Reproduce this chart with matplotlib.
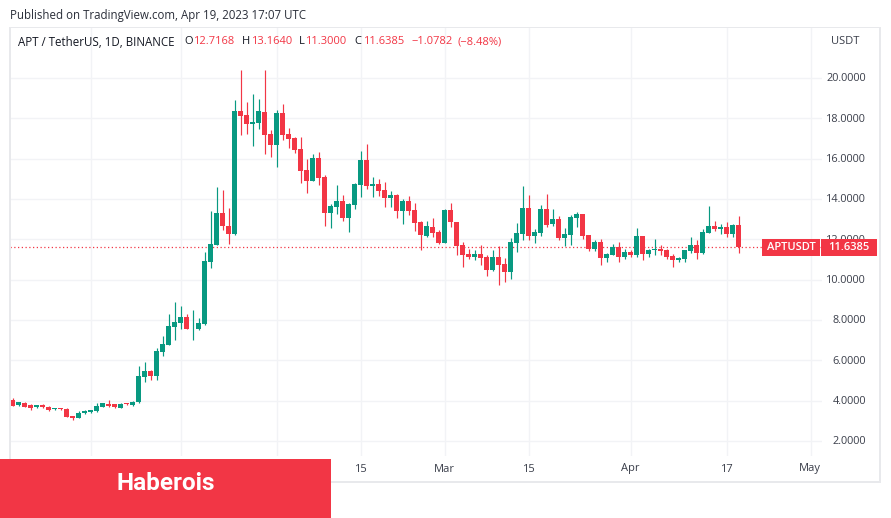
import numpy as np
import matplotlib
matplotlib.use("Agg")
import matplotlib.pyplot as plt
from matplotlib.patches import Rectangle
from matplotlib.transforms import Affine2D

W, H = 891, 518
FONT = "Open Sans"
RED = "#F23645"
GREEN = "#089981"
GRID = "#F2F3F6"
FRAME = "#E8E9EC"
TEXT = "#131722"
AXTXT = "#3A3E4A"

start_date = "2022-12-19"
# candle colour comes from close vs open
opens = [4.05,3.77,3.90,3.77,3.67,3.77,3.70,3.57,3.65,3.60,3.26,3.16,3.37,3.42,3.47,3.70,3.82,3.82,3.65,3.87,3.80,
 3.92,5.19,5.49,5.24,6.43,6.77,7.66,7.86,8.16,7.58,7.56,7.81,10.89,11.73,13.32,12.67,12.28,18.37,18.17,17.74,17.77,
 18.32,17.23,16.68,18.27,17.23,17.03,16.49,15.45,14.90,16.04,15.10,13.32,13.61,13.91,13.07,13.71,14.70,15.94,14.65,
 14.75,14.46,14.06,14.21,13.42,13.91,13.47,12.87,12.18,12.62,12.38,11.83,13.47,12.87,11.74,11.29,11.14,11.29,11.14,
 10.50,11.14,10.80,10.40,11.83,12.28,13.57,12.18,12.33,13.52,12.78,13.02,12.08,12.23,13.07,13.27,12.23,11.54,11.88,
 11.09,11.24,11.62,11.14,11.39,11.24,12.18,11.29,11.47,11.54,11.49,11.19,10.99,11.04,11.44,11.74,11.34,12.33,12.68,
 12.53,12.63,12.28,12.7168]
closes = [3.75,3.92,3.70,3.65,3.77,3.67,3.55,3.65,3.57,3.21,3.16,3.41,3.49,3.52,3.75,3.87,3.75,3.67,3.85,3.82,3.95,
 5.24,5.49,5.24,6.48,6.82,7.71,7.91,8.16,7.56,7.61,7.86,10.93,11.78,13.32,12.64,12.28,18.37,18.12,17.72,17.82,18.37,
 17.18,16.68,18.27,17.18,16.98,16.44,15.40,14.90,16.04,15.05,13.32,13.66,13.91,13.07,13.76,14.75,15.94,14.65,14.75,
 14.41,14.06,14.21,13.42,13.91,13.42,12.82,12.23,12.67,12.33,11.83,13.47,12.84,11.69,11.24,11.14,11.29,11.09,10.50,
 11.14,10.75,10.40,11.88,12.33,13.57,12.18,12.38,13.52,12.73,13.02,12.08,12.28,13.12,13.27,12.18,11.54,11.88,11.09,
 11.29,11.62,11.14,11.39,11.24,12.18,11.29,11.49,11.54,11.44,11.14,10.99,11.09,11.49,11.74,11.34,12.38,12.68,12.53,
 12.63,12.28,12.73,11.6385]
highs = [4.15,3.95,3.92,3.82,3.80,3.82,3.72,3.65,3.65,3.62,3.26,3.49,3.54,3.55,3.88,3.90,4.05,3.85,3.88,3.88,3.97,
 5.70,5.93,5.53,6.61,7.22,8.31,8.87,8.67,8.31,8.50,8.11,11.39,13.42,14.60,14.46,13.57,18.91,20.40,18.81,19.21,18.96,
 20.40,17.43,18.42,18.71,17.53,17.08,17.06,15.99,16.24,16.34,15.20,13.76,14.70,14.21,13.81,14.80,16.39,16.73,15.10,
 15.00,14.85,14.41,14.26,14.01,14.16,13.81,12.92,12.92,13.07,12.48,13.52,13.82,12.87,11.88,11.54,11.49,11.74,11.24,
 11.49,11.69,11.09,12.08,12.83,14.66,14.21,12.53,13.72,14.26,13.52,13.17,12.58,13.22,13.37,13.27,12.23,11.98,12.03,
 11.34,11.79,11.88,11.52,11.49,12.58,12.18,11.54,12.03,11.74,11.54,11.29,11.14,11.49,12.13,11.98,12.53,13.67,12.92,
 12.78,12.87,12.78,13.1640]
lows = [3.72,3.75,3.69,3.55,3.65,3.64,3.50,3.55,3.55,3.17,3.06,3.13,3.32,3.39,3.46,3.67,3.69,3.64,3.62,3.80,3.75,
 3.90,4.94,5.01,5.04,6.19,6.77,7.02,7.55,7.55,7.02,7.51,7.76,10.56,11.73,12.48,11.78,12.23,17.18,17.23,16.63,17.48,
 16.24,16.09,15.59,16.93,16.54,16.29,14.80,14.31,14.90,14.70,12.67,12.58,13.27,12.92,12.38,13.52,14.11,14.51,14.11,
 14.16,13.61,13.61,13.07,12.77,13.22,12.43,11.49,12.13,12.13,11.78,11.83,12.59,11.24,10.65,11.04,10.99,10.75,10.20,
 10.45,9.71,9.90,10.05,11.39,11.98,11.98,11.83,12.18,12.63,12.68,11.98,11.69,11.74,12.63,12.03,11.44,11.44,10.75,
 10.85,11.24,10.85,11.04,11.14,11.14,10.99,11.14,11.24,11.24,11.04,10.65,10.85,10.89,11.34,11.04,11.29,12.33,12.43,
 12.28,12.13,12.13,11.30]

price_ticks = [2, 4, 6, 8, 10, 12, 14, 16, 18, 20]
grid_dates = ["2023-01-01", "2023-01-16", "2023-02-01", "2023-02-15", "2023-03-01",
              "2023-03-15", "2023-04-01", "2023-04-17", "2023-05-01"]
grid_labels = ["", "", "", "15", "Mar", "15", "Apr", "17", "May"]
last_price = 11.6385

dates = np.datetime64(start_date) + np.arange(len(opens)) * np.timedelta64(1, "D")
o, c, hi, lo = map(np.array, (opens, closes, highs, lows))
colors = np.where(c >= o, GREEN, RED)

fig = plt.figure(figsize=(W / 100, H / 100), dpi=100, facecolor="white")
px = Affine2D().scale(1 / W, -1 / H).translate(0, 1) + fig.transFigure


def label(x, y, s, color=TEXT, size=8.0, ha="left", **kw):
    return fig.text(x, y, s, transform=px, color=color, fontsize=size, ha=ha, va="center",
                    family=FONT, **kw)


def box(x0, y0, x1, y1, color, z=5):
    fig.add_artist(Rectangle((x0, y0), x1 - x0, y1 - y0, transform=px, facecolor=color,
                             edgecolor="none", zorder=z))


# Axes spans pixels x 10..822, y 27..456; first candle centred on pixel column 12
left, right, top, bottom = 10, 822, 27, 456
ax = fig.add_axes([left / W, 1 - bottom / H, (right - left) / W, (bottom - top) / H])
ax.set_ylim(2 - (bottom - 441) / 20.17, 2 + (441 - top) / 20.17)
x_origin = dates[0].astype("datetime64[D]").astype(float)
ax.set_xlim(x_origin - 2.5 / 6, x_origin + (right - 12.5) / 6)

ax.set_yticks(price_ticks)
ax.set_xticks(np.array(grid_dates, dtype="datetime64[D]").astype(float))
ax.set_xticklabels([])
ax.set_yticklabels([])
ax.tick_params(length=0)
ax.grid(True, color=GRID, lw=1)
ax.set_axisbelow(True)
for s in ax.spines.values():
    s.set_visible(False)
ax.patch.set_alpha(0)

xs = dates.astype("datetime64[D]").astype(float)
ax.vlines(xs, lo, hi, colors=colors, lw=0.85, zorder=3)
ax.bar(xs, np.abs(c - o), bottom=np.minimum(o, c), width=0.8, color=colors, linewidth=0, zorder=4)
ax.axhline(last_price, color=RED, lw=0.9, ls=(0, (1, 2)), zorder=2)

# Frame around the whole chart widget
for (x0, y0, x1, y1) in [(9, 27, 880, 28), (9, 27, 11, 483), (879, 27, 881, 483), (9, 481, 881, 483)]:
    box(x0, y0, x1, y1, FRAME, z=1)

# Texts
label(10, 15, "Published on TradingView.com, Apr 19, 2023 17:07 UTC", color="#2A2E39", size=8.3)
label(18, 42, "APT / TetherUS, 1D, BINANCE", size=8.3)
for x, s, col in [(184, "O", TEXT), (193, "12.7168", RED), (242, "H", TEXT), (251, "13.1640", RED),
                  (299, "L", TEXT), (305, "11.3000", RED), (354, "C", TEXT), (363, "11.6385", RED),
                  (411, "\u22121.0782", RED), (457, "(\u22128.48%)", RED)]:
    label(x, 42, s, color=col)

label(845, 41, "USDT", color=AXTXT, ha="center")
for p in price_ticks:
    label(866, 442 - (p - 2) * 20.17, f"{p:.4f}", color=AXTXT, ha="right", zorder=2, size=7.8)
for d, s in zip(grid_dates, grid_labels):
    if s:
        xp = 12 + 6 * (np.datetime64(d) - dates[0]).astype(int)
        label(xp, 469, s, color=AXTXT, ha="center")

# Price tags
box(762, 239, 820, 256, RED)
box(821, 239, 877, 256, RED)
label(791, 247.5, "APTUSDT", color="white", ha="center", fontweight="semibold", zorder=6)
label(849, 247.5, f"{last_price:.4f}", color="white", ha="center", fontweight="semibold", zorder=6)

# Banner
box(0, 459, 331, 518, RED, z=7)
fig.text(166, 484, "Haberois", transform=px, color="white", fontsize=17.5, fontweight="bold",
         family="Roboto", ha="center", va="center", zorder=8)

fig.savefig("out.png", dpi=100)
